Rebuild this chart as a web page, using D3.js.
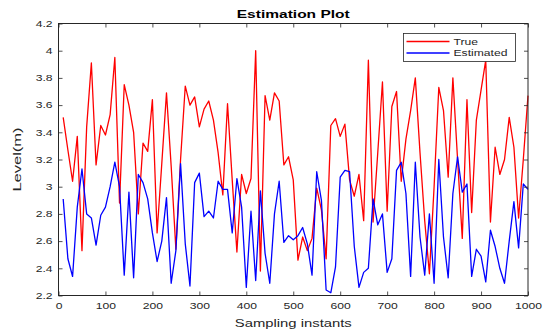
<!DOCTYPE html>
<html>
<head>
<meta charset="utf-8">
<script src="https://cdn.jsdelivr.net/npm/d3@7"></script>
<style>
  html, body { margin: 0; padding: 0; background: #fff; }
  svg { display: block; }
</style>
</head>
<body>
<svg id="chart" width="546" height="331"></svg>
<script>
// ─── Data ────────────────────────────────────────────────────────────
const instants = d3.range(10, 1001, 10);

const trueLevel = [
  3.51, 3.27, 3.04, 3.37, 2.53, 3.44, 3.91, 3.16, 3.45, 3.38,
  3.53, 3.95, 2.88, 3.75, 3.60, 3.40, 2.80, 3.32, 3.26, 3.64,
  2.66, 3.17, 3.69, 3.15, 2.54, 3.20, 3.74, 3.60, 3.66, 3.44,
  3.57, 3.63, 3.49, 3.25, 2.94, 3.61, 3.05, 2.52, 3.09, 2.95,
  3.06, 4.00, 2.38, 3.67, 3.49, 3.69, 3.63, 3.16, 3.22, 3.05,
  2.46, 2.63, 2.53, 2.62, 2.99, 2.83, 2.47, 3.45, 3.50, 3.37,
  3.46, 3.05, 2.93, 3.09, 2.75, 3.93, 2.74, 3.25, 3.77, 2.82,
  3.59, 3.70, 3.04, 3.35, 3.56, 3.80, 3.25, 2.75, 2.36, 3.00,
  3.73, 3.56, 3.07, 3.80, 3.20, 2.62, 3.64, 2.81, 3.49, 3.71,
  3.93, 2.74, 3.29, 3.09, 3.20, 3.51, 3.29, 2.77, 3.20, 3.67
];

const estLevel = [
  2.91, 2.47, 2.34, 2.85, 3.13, 2.80, 2.77, 2.57, 2.79, 2.85,
  3.00, 3.18, 3.00, 2.35, 2.96, 2.33, 3.09, 3.03, 2.91, 2.66,
  2.45, 2.60, 2.92, 2.29, 2.53, 3.17, 2.58, 2.27, 3.03, 3.10,
  2.78, 2.82, 2.77, 3.04, 2.98, 2.98, 2.66, 3.06, 2.85, 2.26,
  2.82, 2.31, 2.97, 2.51, 2.29, 2.80, 3.04, 2.59, 2.64, 2.61,
  2.64, 2.70, 2.58, 2.35, 3.11, 2.90, 2.24, 2.22, 2.41, 3.07,
  3.12, 3.11, 2.56, 2.26, 2.37, 2.40, 2.91, 2.72, 2.80, 2.37,
  2.47, 3.12, 3.18, 2.95, 2.34, 3.18, 2.63, 2.35, 2.80, 2.29,
  3.20, 2.63, 2.33, 2.95, 3.22, 2.96, 3.02, 2.34, 2.54, 2.49,
  2.30, 2.68, 2.56, 2.40, 2.29, 2.60, 2.89, 2.55, 3.02, 2.98
];

const xTicks = [0, 100, 200, 300, 400, 500, 600, 700, 800, 900, 1000];
const yTicks = [2.2, 2.4, 2.6, 2.8, 3, 3.2, 3.4, 3.6, 3.8, 4, 4.2];

const seriesNames = ["True", "Estimated"];
const seriesColors = ["#ff0000", "#0000ff"];

// ─── Layout ──────────────────────────────────────────────────────────
const width = 546, height = 331;
const margin = { top: 23.5, right: 18, bottom: 35.5, left: 58.5 };
const plotW = width - margin.left - margin.right;
const plotH = height - margin.top - margin.bottom;
const font = "'Liberation Sans', Arial, Helvetica, sans-serif";
const stretch = 1.35; // text in the reference is horizontally stretched
const axisColor = "#262626";

const svg = d3.select("#chart");

const x = d3.scaleLinear().domain([0, 1000]).range([0, plotW]);
const y = d3.scaleLinear().domain([2.2, 4.2]).range([plotH, 0]);

const g = svg.append("g").attr("transform", `translate(${margin.left},${margin.top})`);

// ─── Lines ───────────────────────────────────────────────────────────
const line = d3.line().x((d) => x(d[0])).y((d) => y(d[1]));

[trueLevel, estLevel].forEach((vals, i) => {
  g.append("path")
    .datum(instants.map((t, j) => [t, vals[j]]))
    .attr("fill", "none")
    .attr("stroke", seriesColors[i])
    .attr("stroke-width", 1.3)
    .attr("stroke-linejoin", "round")
    .attr("d", line);
});

// ─── Axes (MATLAB box with inward ticks) ─────────────────────────────
const fmt = (d) => String(+d.toFixed(1));

function styleAxis(sel) {
  sel.select(".domain").remove();
  sel.selectAll(".tick line").attr("stroke", axisColor).attr("stroke-width", 0.8);
}

const xAxis = g.append("g")
  .attr("transform", `translate(0,${plotH})`)
  .call(d3.axisBottom(x).tickValues(xTicks).tickFormat(fmt).tickSizeInner(-4).tickSizeOuter(0));
styleAxis(xAxis);
xAxis.selectAll(".tick text")
  .attr("y", 7)
  .attr("dy", "0.71em")
  .attr("font-family", font)
  .attr("font-size", 9)
  .attr("fill", axisColor)
  .attr("transform", `scale(${stretch},1)`);

const xTop = g.append("g")
  .call(d3.axisTop(x).tickValues(xTicks).tickFormat("").tickSizeInner(-4).tickSizeOuter(0));
styleAxis(xTop);

const yAxis = g.append("g")
  .call(d3.axisLeft(y).tickValues(yTicks).tickFormat(fmt).tickSizeInner(-4).tickSizeOuter(0));
styleAxis(yAxis);
yAxis.selectAll(".tick text")
  .attr("x", -6 / stretch)
  .attr("font-family", font)
  .attr("font-size", 9)
  .attr("fill", axisColor)
  .attr("transform", `scale(${stretch},1)`);

const yRight = g.append("g")
  .attr("transform", `translate(${plotW},0)`)
  .call(d3.axisRight(y).tickValues(yTicks).tickFormat("").tickSizeInner(-4).tickSizeOuter(0));
styleAxis(yRight);

g.append("rect")
  .attr("x", 0).attr("y", 0)
  .attr("width", plotW).attr("height", plotH)
  .attr("fill", "none")
  .attr("stroke", axisColor)
  .attr("stroke-width", 1);

// ─── Title & axis labels ─────────────────────────────────────────────
svg.append("text")
  .attr("transform", `translate(${margin.left + plotW / 2},18) scale(${stretch},1)`)
  .attr("text-anchor", "middle")
  .attr("font-family", font)
  .attr("font-size", 11.5)
  .attr("font-weight", "bold")
  .attr("fill", "#000")
  .text("Estimation Plot");

svg.append("text")
  .attr("transform", `translate(${margin.left + plotW / 2},327) scale(${stretch},1)`)
  .attr("text-anchor", "middle")
  .attr("font-family", font)
  .attr("font-size", 11)
  .attr("fill", axisColor)
  .text("Sampling instants");

svg.append("text")
  .attr("transform", `translate(21,${margin.top + plotH / 2}) rotate(-90) scale(1.5,1)`)
  .attr("text-anchor", "middle")
  .attr("font-family", font)
  .attr("font-size", 11)
  .attr("fill", axisColor)
  .text("Level(m)");

// ─── Legend ──────────────────────────────────────────────────────────
const legend = svg.append("g").attr("transform", "translate(403.5,33.5)");
legend.append("rect")
  .attr("width", 112).attr("height", 28)
  .attr("fill", "#fff")
  .attr("stroke", axisColor)
  .attr("stroke-width", 0.8);

seriesNames.forEach((name, i) => {
  const row = legend.append("g").attr("transform", `translate(0,${8 + i * 11.5})`);
  row.append("line")
    .attr("x1", 3).attr("x2", 46)
    .attr("stroke", seriesColors[i])
    .attr("stroke-width", 1.3);
  row.append("text")
    .attr("transform", `translate(50,0) scale(${stretch},1)`)
    .attr("dy", "0.35em")
    .attr("font-family", font)
    .attr("font-size", 9)
    .attr("fill", axisColor)
    .text(name);
});
</script>
</body>
</html>
